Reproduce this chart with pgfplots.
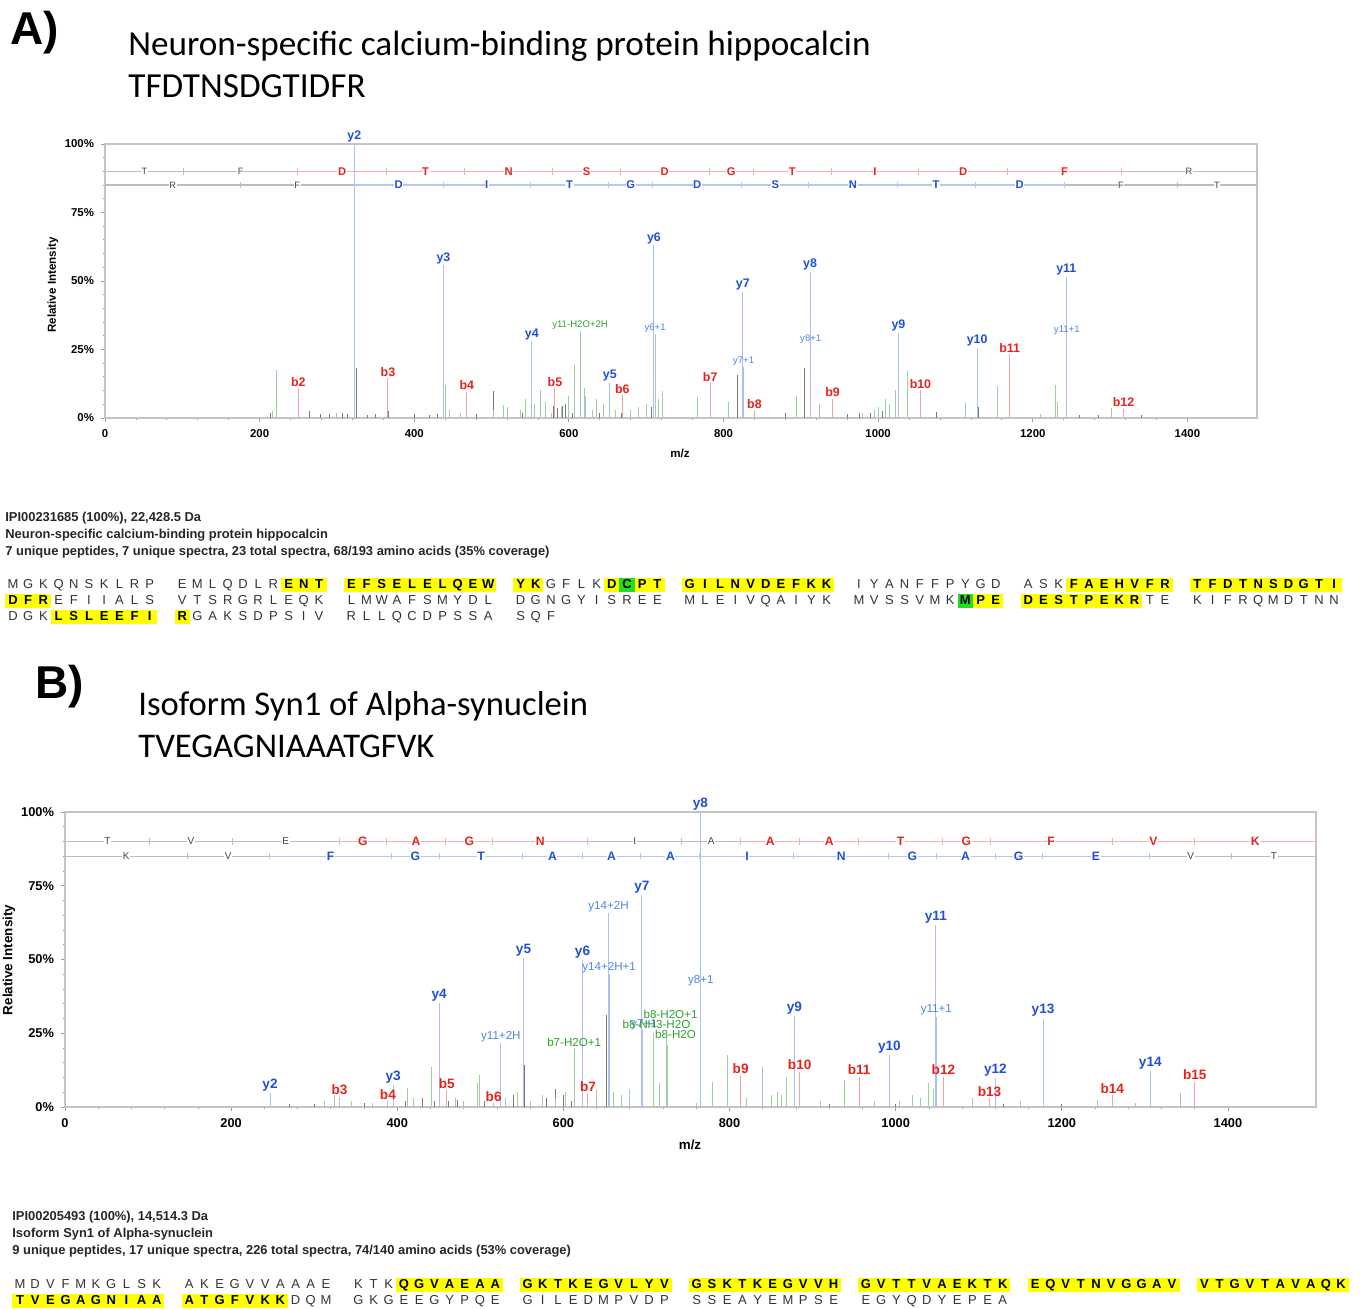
\documentclass[border=0pt]{standalone}
\usepackage{pgfplots}
\pgfplotsset{compat=1.18}
\usepackage{fontspec}
\setmainfont{Liberation Sans}
\newfontfamily\titlefont{Carlito}
\definecolor{bl}{HTML}{1E50D8}
\definecolor{bll}{HTML}{4A84F0}
\definecolor{bs}{HTML}{A9C0F4}
\definecolor{rl}{HTML}{E6231B}
\definecolor{rs}{HTML}{F4A3A3}
\definecolor{gl}{HTML}{2F9E2F}
\definecolor{gs}{HTML}{9ED09E}
\definecolor{ks}{HTML}{7A7A7A}
\definecolor{lg}{HTML}{BDBDBD}
\definecolor{lr}{HTML}{F5B0AD}
\definecolor{lb}{HTML}{B4C8F4}
\definecolor{hly}{HTML}{FFFF00}
\definecolor{hlg}{HTML}{22DD22}
\definecolor{boxg}{HTML}{C4C4C4}
\definecolor{seqc}{HTML}{333333}
\definecolor{ltrg}{HTML}{444444}
\newlength\lw \setlength\lw{7.6pt}
\makeatletter
\newcommand\seqS[1]{\@tfor\sq@x:=#1\do{\makebox[\lw][c]{\sq@x}}}
\makeatother
\newcommand\sqstrut{\rule[-1.7pt]{0pt}{7.3pt}}
\newcommand\N[1]{{\color{seqc}\seqS{#1}}}
\newcommand\Y[1]{{\setlength\fboxsep{0pt}\colorbox{hly}{\sqstrut\bfseries\color{black}\seqS{#1}}}}
\newcommand\Gn[1]{{\setlength\fboxsep{0pt}\colorbox{hlg}{\sqstrut\bfseries\color{black}\seqS{#1}}}}
\newcommand\gp{\hspace{8.6pt}}
\pgfplotsset{
 spec/.style={scale only axis, xmin=0, ymin=0, ymax=100, clip=false,
  axis line style={draw=boxg, line width=0.6pt},
  xtick={0,200,...,1400}, xticklabels={0,200,400,600,800,1000,1200,1400},
  ytick={0,25,50,75,100}, yticklabels={0\%,25\%,50\%,75\%,100\%},
  minor x tick num=4, minor y tick num=4, tick align=outside,
  major tick length=2pt, minor tick length=1pt,
  tick style={draw=gray!80, line width=0.4pt},
  xtick pos=bottom, ytick pos=left},
 stick/.style={ycomb, mark=none, line width=0.5pt},
 lab/.style 2 args={nodes near coords, point meta=explicit symbolic,
  every node near coord/.append style={font=#1, text=#2, inner sep=0.6pt}},
 ltr/.style 2 args={draw=none, mark=none, nodes near coords, point meta=explicit symbolic,
  nodes near coords align={center},
  every node near coord/.append style={font=#1, text=#2, fill=white, inner sep=0.3pt}},
 lline/.style={line width=0.6pt},
 ltick/.style={only marks, mark=|, mark size=1.6pt, mark options={draw=#1, line width=0.5pt}},
}
\begin{document}
\begin{tikzpicture}
\path[use as bounding box] (0,0) rectangle (680pt,-654.5pt);
\begin{scope}[x=0.5pt,y=-0.5pt]
% ---- titles
\node[anchor=base west, inner sep=0, font=\bfseries\fontsize{23}{26}\selectfont] at (10,45) {A)};
\node[anchor=base west, inner sep=0, font=\titlefont\fontsize{17.6}{20}\selectfont] at (128,56) {Neuron-specific calcium-binding protein hippocalcin};
\node[anchor=base west, inner sep=0, font=\titlefont\fontsize{17.6}{20}\selectfont] at (128,98) {TFDTNSDGTIDFR};
\node[anchor=base west, inner sep=0, font=\bfseries\fontsize{23}{26}\selectfont] at (35,699) {B)};
\node[anchor=base west, inner sep=0, font=\titlefont\fontsize{17.3}{20}\selectfont] at (138,716) {Isoform Syn1 of Alpha-synuclein};
\node[anchor=base west, inner sep=0, font=\titlefont\fontsize{17.3}{20}\selectfont] at (138,758) {TVEGAGNIAAATGFVK};
% ---- axis labels
\node[rotate=90, font=\bfseries\fontsize{5.8}{7}\selectfont] at (53,285) {Relative Intensity};
\node[font=\bfseries\fontsize{5.8}{7}\selectfont] at (680,453) {m/z};
\node[rotate=90, font=\bfseries\fontsize{6.7}{8}\selectfont] at (9,960) {Relative Intensity};
\node[font=\bfseries\fontsize{6.7}{8}\selectfont] at (690,1145) {m/z};
% ---- info text
\begin{scope}[every node/.style={anchor=west, inner sep=0, font=\bfseries\fontsize{6.45}{7.6}\selectfont, text=black!85}]
\node at (5,518) {IPI00231685 (100\%), 22,428.5 Da};
\node at (5,535) {Neuron-specific calcium-binding protein hippocalcin};
\node at (5,552) {7 unique peptides, 7 unique spectra, 23 total spectra, 68/193 amino acids (35\% coverage)};
\node at (12,1217) {IPI00205493 (100\%), 14,514.3 Da};
\node at (12,1234) {Isoform Syn1 of Alpha-synuclein};
\node at (12,1251) {9 unique peptides, 17 unique spectra, 226 total spectra, 74/140 amino acids (53\% coverage)};
\end{scope}
% ---- sequences
\begin{scope}[every node/.style={anchor=west, inner sep=0, font=\fontsize{6.5}{7.5}\selectfont}]
\node at (5,585) {\sqstrut\N{MGKQNSKLRP}\gp\N{EMLQDLR}\Y{ENT}\gp\Y{EFSELELQEW}\gp\Y{YK}\N{GFLK}\Y{D}\Gn{C}\Y{PT}\gp\Y{GILNVDEFKK}\gp\N{IYANFFPYGD}\gp\N{ASK}\Y{FAEHVFR}\gp\Y{TFDTNSDGTI}};
\node at (5,601) {\sqstrut\Y{DFR}\N{EFIIALS}\gp\N{VTSRGRLEQK}\gp\N{LMWAFSMYDL}\gp\N{DGNGYISREE}\gp\N{MLEIVQAIYK}\gp\N{MVSSVMK}\Gn{M}\Y{PE}\gp\Y{DESTPEKR}\N{TE}\gp\N{KIFRQMDTNN}};
\node at (5,617) {\sqstrut\N{DGK}\Y{LSLEEFI}\gp\Y{R}\N{GAKSDPSIV}\gp\N{RLLQCDPSSA}\gp\N{SQF}};
\node at (12,1285) {\sqstrut\N{MDVFMKGLSK}\gp\N{AKEGVVAAAE}\gp\N{KTK}\Y{QGVAEAA}\gp\Y{GKTKEGVLYV}\gp\Y{GSKTKEGVVH}\gp\Y{GVTTVAEKTK}\gp\Y{EQVTNVGGAV}\gp\Y{VTGVTAVAQK}};
\node at (12,1301) {\sqstrut\Y{TVEGAGNIAA}\gp\Y{ATGFVKK}\N{DQM}\gp\N{GKGEEGYPQE}\gp\N{GILEDMPVDP}\gp\N{SSEAYEMPSE}\gp\N{EGYQDYEPEA}};
\end{scope}
\end{scope}

% ================= Panel A =================
\begin{axis}[spec, at={(52.5pt,-209pt)}, anchor=south west,
  width=576pt, height=137pt, xmax=1490,
  ticklabel style={font=\bfseries\fontsize{5.7}{6.5}\selectfont}]
% unassigned (gray)
\addplot[stick, ks] coordinates {(214,2)(250.5,2)(265,2.5)(279,1.5)(290,1.5)(307,1.8)(314,1.5)(325,18.2)(340,1)(350,1.5)(366.5,2.5)(400,1.5)(420,1.2)(430,1.5)(480,1.5)(503,10)(540,2)(555,3)(580,4.5)(585,3.5)(592,4.5)(596,5)(605,2)(640,2)(668,2)(700,2)(707,4)(817.7,15.7)(880,2)(904.6,18.2)(960,1.5)(976,2)(990,2)(1005,2.5)(1075,2.2)(1130,4)(1260,1)(1285,1)(1340,1)};
% other (green)
\addplot[stick, gs] coordinates {(216,2.5)(222,17.6)(300,2)(440,12)(446,3)(460,2)(502,3)(516,4.6)(520,4)(538,3)(544,7)(556,5)(563.5,10.3)(570,6)(578,2)(590,4)(600,8)(607.5,19.4)(620,11)(630,3)(636,7)(645,5)(660,3)(680,3)(690,4)(700,5)(716,7)(721,9.9)(766,7.8)(806,6)(894,8.2)(924.5,5)(980,2)(995,3)(1000,4)(1010,7)(1015,5)(1022,10.3)(1038,17)(1113,5.6)(1154,11.5)(1210,1.6)(1229,12.2)(1232,6)(1302,3.5)};
\addplot[stick, bs] coordinates {(622,8)};
% labelled
\addplot[stick, gs, lab={\fontsize{4.8}{5.5}\selectfont}{gl}] coordinates {(614.5,31.7)[y11-H2O+2H]};
\addplot[stick, rs, lab={\bfseries\fontsize{6.2}{7}\selectfont}{rl}] coordinates {(250,10.8)[b2] (366,14.5)[b3] (468,9.6)[b4] (582,10.8)[b5] (669,8.4)[b6] (782.8,12.7)[b7] (840,2.8)[b8] (941,7.1)[b9] (1054.7,10.2)[b10] (1170,23.4)[b11] (1317.4,3.4)[b12]};
\addplot[stick, bs, lab={\fontsize{4.8}{5.5}\selectfont}{bll}] coordinates {(711.5,30.5)[y6+1] (826,18.5)[y7+1] (912.8,26.5)[y8+1] (1244,30)[y11+1]};
\addplot[stick, bs, lab={\bfseries\fontsize{6.2}{7}\selectfont}{bl}] coordinates {(322.5,100)[y2] (437.8,55.7)[y3] (552,28)[y4] (653,12.7)[y5] (710,63)[y6] (825,45.9)[y7] (912,53.3)[y8] (1026.3,31.1)[y9] (1128,25.6)[y10] (1243.4,51.4)[y11]};
% ladders row b
\addplot[lline, lg] coordinates {(0,90)(249.1,90)};
\addplot[lline, lr] coordinates {(249.1,90)(1314.5,90)};
\addplot[lline, lg] coordinates {(1314.5,90)(1490,90)};
\addplot[ltick=lg] coordinates {(102.1,90)(1490,90)};
\addplot[ltick=lr] coordinates {(249.1,90)(364.2,90)(465.2,90)(579.2,90)(666.3,90)(781.3,90)(838.3,90)(939.4,90)(1052.5,90)(1167.5,90)(1314.5,90)};
\addplot[ltr={\fontsize{4.6}{5}\selectfont}{ltrg}] coordinates {(51,90)[T] (175.6,90)[F] (1402,90)[R]};
\addplot[ltr={\bfseries\fontsize{5.6}{6}\selectfont}{rl}] coordinates {(306.6,90)[D] (414.7,90)[T] (522.2,90)[N] (622.8,90)[S] (723.8,90)[D] (809.8,90)[G] (888.8,90)[T] (995.9,90)[I] (1110,90)[D] (1241,90)[F]};
% ladders row y
\addplot[lline, lg] coordinates {(0,85)(322.2,85)};
\addplot[lline, lb] coordinates {(322.2,85)(1240.5,85)};
\addplot[lline, lg] coordinates {(1240.5,85)(1490,85)};
\addplot[ltick=lg] coordinates {(175.1,85)(1387.6,85)(1490,85)};
\addplot[ltick=lb] coordinates {(322.2,85)(437.2,85)(550.3,85)(651.3,85)(708.4,85)(823.4,85)(910.4,85)(1024.5,85)(1125.5,85)(1240.5,85)};
\addplot[ltr={\fontsize{4.6}{5}\selectfont}{ltrg}] coordinates {(87.6,85)[R] (248.7,85)[F] (1314.1,85)[F] (1438.2,85)[T]};
\addplot[ltr={\bfseries\fontsize{5.6}{6}\selectfont}{bl}] coordinates {(379.7,85)[D] (493.8,85)[I] (600.8,85)[T] (679.9,85)[G] (765.9,85)[D] (866.9,85)[S] (967.4,85)[N] (1075,85)[T] (1183,85)[D]};
\end{axis}

% ================= Panel B =================
\begin{axis}[spec, at={(32.5pt,-553.5pt)}, anchor=south west,
  width=625.5pt, height=147.5pt, xmax=1506,
  ticklabel style={font=\bfseries\fontsize{6.4}{7.2}\selectfont}]
\addplot[stick, ks] coordinates {(270,1)(300,1)(360,1.5)(396,3)(410,2)(430,3)(445,2)(462,2)(472,2.5)(505,2)(540,4)(553.2,14.3)(580,3)(590,6)(600,4)(610,2)(640,3)(651.6,31.2)(670,3)(680,2)(708.5,10.9)(716,8)(760,1)(920,1)(1000,1)(1130,1)(1150,1.5)(1200,1)};
\addplot[stick, gs] coordinates {(312,2)(325,4)(345,2)(370,1.5)(412,6.3)(420,3)(441,13.6)(470,3)(480,2)(496,8)(499,10.9)(530,3)(545,5)(560,2)(575,4)(590,3)(603,5)(640,6)(660,5)(670,4)(680,6)(708,25)(716,8)(724.7,23.3)(725.5,21)(760,1.5)(779,8.6)(797,17.6)(820,3)(839.8,13.7)(850,4)(858,5)(862,4)(868,10.3)(910,2)(938.2,9.2)(975,2)(1005,2)(1020,4)(1030,3)(1039,8)(1045,6)(1093,3)(1150,2)(1243.5,2.4)(1289,1.2)(1342.5,4.6)};
\addplot[stick, bs] coordinates {(623.5,17)(695.5,26)};
\addplot[stick, gs, lab={\fontsize{5.8}{6.5}\selectfont}{gl}] coordinates {(613,20)[b7-H2O+1]};
\addplot[stick, rs, lab={\bfseries\fontsize{6.8}{7.5}\selectfont}{rl}] coordinates {(330.6,3.5)[b3] (388.7,2)[b4] (459.7,5.8)[b5] (516,1.2)[b6] (629.6,4.6)[b7] (813.4,10.9)[b9] (884.4,12)[b10] (956,10.3)[b11] (1057.5,10.3)[b12] (1113,2.9)[b13] (1260.8,4)[b14] (1360,8.6)[b15]};
\addplot[stick, bs, lab={\fontsize{5.8}{6.5}\selectfont}{bll}] coordinates {(524.7,21.6)[y11+2H] (654.3,65.6)[y14+2H] (655,45)[y14+2H+1] (765.5,40.5)[y8+1] (1049,30.5)[y11+1]};
\addplot[stick, bs, lab={\bfseries\fontsize{6.8}{7.5}\selectfont}{bl}] coordinates {(246.8,4.6)[y2] (395,7.5)[y3] (450.5,35.2)[y4] (552,50.5)[y5] (623,49.9)[y6] (694.6,72)[y7] (765,100)[y8] (878,31)[y9] (992.5,17.6)[y10] (1048.4,61.8)[y11] (1120,9.7)[y12] (1177.4,30)[y13] (1306.5,12.2)[y14]};
\node[font=\fontsize{5.8}{6.5}\selectfont, text=bll] at (axis cs:697,28) {y7+1};
\node[font=\fontsize{5.8}{6.5}\selectfont, text=gl] at (axis cs:729,31.5) {b8-H2O+1};
\node[font=\fontsize{5.8}{6.5}\selectfont, text=gl] at (axis cs:712,28.1) {b8-NH3-H2O};
\node[font=\fontsize{5.8}{6.5}\selectfont, text=gl] at (axis cs:735,24.7) {b8-H2O};
% ladder row b
\addplot[lline, lg] coordinates {(0,90)(330.2,90)};
\addplot[lline, lr] coordinates {(330.2,90)(629.3,90)};
\addplot[lline, lg] coordinates {(629.3,90)(813.4,90)};
\addplot[lline, lr] coordinates {(813.4,90)(1506,90)};
\addplot[ltick=lg] coordinates {(102.1,90)(201.1,90)(742.4,90)};
\addplot[ltick=lr] coordinates {(330.2,90)(387.2,90)(458.2,90)(515.2,90)(629.3,90)(813.4,90)(884.4,90)(955.5,90)(1056.5,90)(1113.6,90)(1260.6,90)(1359.7,90)(1506,90)};
\addplot[ltr={\fontsize{5}{5.5}\selectfont}{ltrg}] coordinates {(51,90)[T] (151.6,90)[V] (265.6,90)[E] (685.8,90)[I] (777.9,90)[A]};
\addplot[ltr={\bfseries\fontsize{6.1}{6.5}\selectfont}{rl}] coordinates {(358.7,90)[G] (422.7,90)[A] (486.7,90)[G] (572.3,90)[N] (849,90)[A] (920,90)[A] (1006,90)[T] (1085,90)[G] (1187.1,90)[F] (1310.2,90)[V] (1432.8,90)[K]};
% ladder row y
\addplot[lline, lg] coordinates {(0,85)(246.2,85)};
\addplot[lline, lb] coordinates {(246.2,85)(1305.7,85)};
\addplot[lline, lg] coordinates {(1305.7,85)(1506,85)};
\addplot[ltick=lg] coordinates {(147.1,85)(1404.7,85)(1506,85)};
\addplot[ltick=lb] coordinates {(246.2,85)(393.2,85)(450.3,85)(551.3,85)(622.4,85)(693.4,85)(764.4,85)(877.5,85)(991.6,85)(1048.6,85)(1119.6,85)(1176.6,85)(1305.7,85)};
\addplot[ltr={\fontsize{5}{5.5}\selectfont}{ltrg}] coordinates {(73.6,85)[K] (196.6,85)[V] (1355.2,85)[V] (1455.4,85)[T]};
\addplot[ltr={\bfseries\fontsize{6.1}{6.5}\selectfont}{bl}] coordinates {(319.7,85)[F] (421.8,85)[G] (500.8,85)[T] (586.8,85)[A] (657.9,85)[A] (728.9,85)[A] (821,85)[I] (934.5,85)[N] (1020.1,85)[G] (1084.1,85)[A] (1148.1,85)[G] (1241.2,85)[E]};
\end{axis}
\end{tikzpicture}
\end{document}
